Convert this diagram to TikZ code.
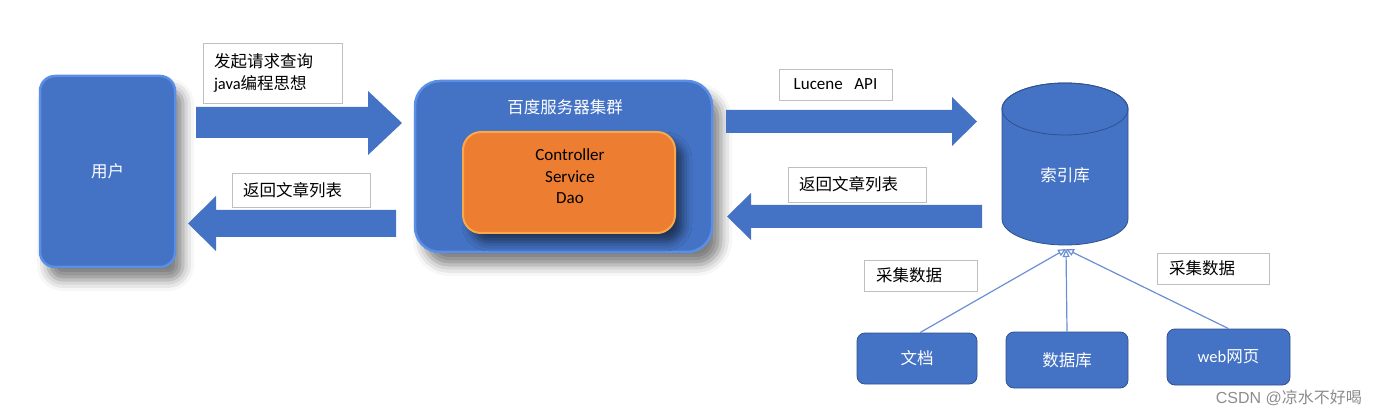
\documentclass[tikz,border=0pt]{standalone}
\usepackage{fontspec}
\setmainfont{Noto Sans CJK SC}
\newfontfamily\lat{Carlito}
\newfontfamily\wm{Liberation Sans}
\usetikzlibrary{shadows.blur,arrows.meta}
\definecolor{bl}{HTML}{4472C4}
\definecolor{bldark}{HTML}{2F528F}
\definecolor{blglow}{HTML}{5B8FE6}
\definecolor{org}{HTML}{ED7D31}
\definecolor{orgglow}{HTML}{F9A84A}
\definecolor{conn}{HTML}{6A8FD6}
\newcommand{\fs}{\fontsize{16.5}{22}\selectfont}
\begin{document}
\begin{tikzpicture}[x=1pt,y=-1pt,
  lbl/.style={draw=black!25, fill=white, line width=0.8pt, inner sep=0pt, font=\fs, text=black},
  lblL/.style={lbl, align=left, text width=#1},
  blk/.style={fill=bl},
  bigbox/.style={fill=bl, draw=blglow, line width=2.5pt, text=white, font=\fs, inner sep=0pt},
  srcbox/.style={fill=bl, draw=bldark, line width=0.8pt, rounded corners=8pt, text=white, font=\fs, inner sep=0pt},
  link/.style={draw=conn, line width=1.2pt, -{Triangle[open,length=8pt,width=7pt]}}
]
\useasboundingbox (0,0) rectangle (1374,414);

% user box
\node[bigbox, rounded corners=15pt, minimum width=135pt, minimum height=191pt,
  blur shadow={shadow xshift=8pt, shadow yshift=-13pt, shadow blur radius=11pt, shadow opacity=50}]
  (user) at (107.5,171.5) {用户};

% arrows between user and server
\fill[blk] (196,107) -- (368,107) -- (368,91) -- (402,123) -- (368,155) -- (368,138) -- (196,138) -- cycle;
\fill[blk] (396,210) -- (216,210) -- (216,196) -- (188,223.5) -- (216,251) -- (216,237) -- (396,237) -- cycle;

\node[lblL=117pt, minimum width=139pt, minimum height=60pt]
  (q) at (272.5,73) {发起请求查询\\{\lat java}编程思想};
\node[lblL=116pt, minimum width=138pt, minimum height=34pt] (r1) at (301,190) {返回文章列表};

% server cluster
\node[bigbox, rounded corners=25pt, minimum width=297pt, minimum height=171pt,
  blur shadow={shadow xshift=9pt, shadow yshift=-13pt, shadow blur radius=11pt, shadow opacity=50}]
  (srv) at (563.5,166.5) {};
\node[text=white, font=\fs] (srvt) at (565,107) {百度服务器集群};
\node[fill=org, draw=orgglow, line width=2pt, rounded corners=18pt, minimum width=212pt, minimum height=101pt,
  inner sep=0pt,
  blur shadow={shadow xshift=8pt, shadow yshift=-9pt, shadow blur radius=9pt, shadow opacity=55}]
  (layers) at (569,182.5) {};
\node[align=center, font=\lat\fontsize{17}{21.5}\selectfont, text=black, inner sep=0pt]
  (layerst) at (570,176.5) {Controller\\Service\\Dao};

% arrows between server and index
\fill[blk] (726,110) -- (952,110) -- (952,97) -- (977,121.5) -- (952,146) -- (952,133) -- (726,133) -- cycle;
\fill[blk] (982,205) -- (751,205) -- (751,193) -- (727,216.5) -- (751,240) -- (751,228) -- (982,228) -- cycle;

\node[lbl, minimum width=113pt, minimum height=31pt, font=\lat\fontsize{17}{21}\selectfont]
  (api) at (835.5,84.5) {Lucene\ \ \ API};
\node[lblL=116pt, minimum width=138pt, minimum height=35pt] (r2) at (857,184.5) {返回文章列表};

% index cylinder
\fill[bl, draw=bldark, line width=0.8pt]
  (1002,109) -- (1002,219) arc[start angle=180, end angle=360, x radius=63pt, y radius=26pt]
  -- (1128,109) arc[start angle=0, end angle=180, x radius=63pt, y radius=26pt] -- cycle;
\draw[bldark, line width=0.8pt] (1065,109) ellipse[x radius=63pt, y radius=26pt];
\node[text=white, font=\fs] (idx) at (1065,175) {索引库};
\coordinate (idxin) at (1066,249);

% sources
\node[srcbox, minimum width=120pt, minimum height=51pt] (doc) at (917,358.5) {文档};
\node[srcbox, minimum width=122pt, minimum height=56pt] (db) at (1067,360) {数据库};
\node[srcbox, minimum width=123pt, minimum height=56pt] (web) at (1228.5,357) {{\lat web}网页};

\draw[link] (doc.north) ++(3pt,0) coordinate (docn) (docn) -- (idxin);
\draw[link] (db.north) -- (idxin);
\draw[link] (web.north) -- (idxin);

\node[lblL=89pt, minimum width=113pt, minimum height=31pt] (c1) at (920.5,275.5) {采集数据};
\node[lblL=88pt, minimum width=112pt, minimum height=31pt] (c2) at (1213,268.5) {采集数据};

% watermark
\node[text=black!45, font=\wm\fontsize{16}{18}\selectfont, anchor=east, inner sep=0pt] (wmk) at (1362,398) {CSDN @{\rmfamily 凉水不好喝}};
\end{tikzpicture}
\end{document}
